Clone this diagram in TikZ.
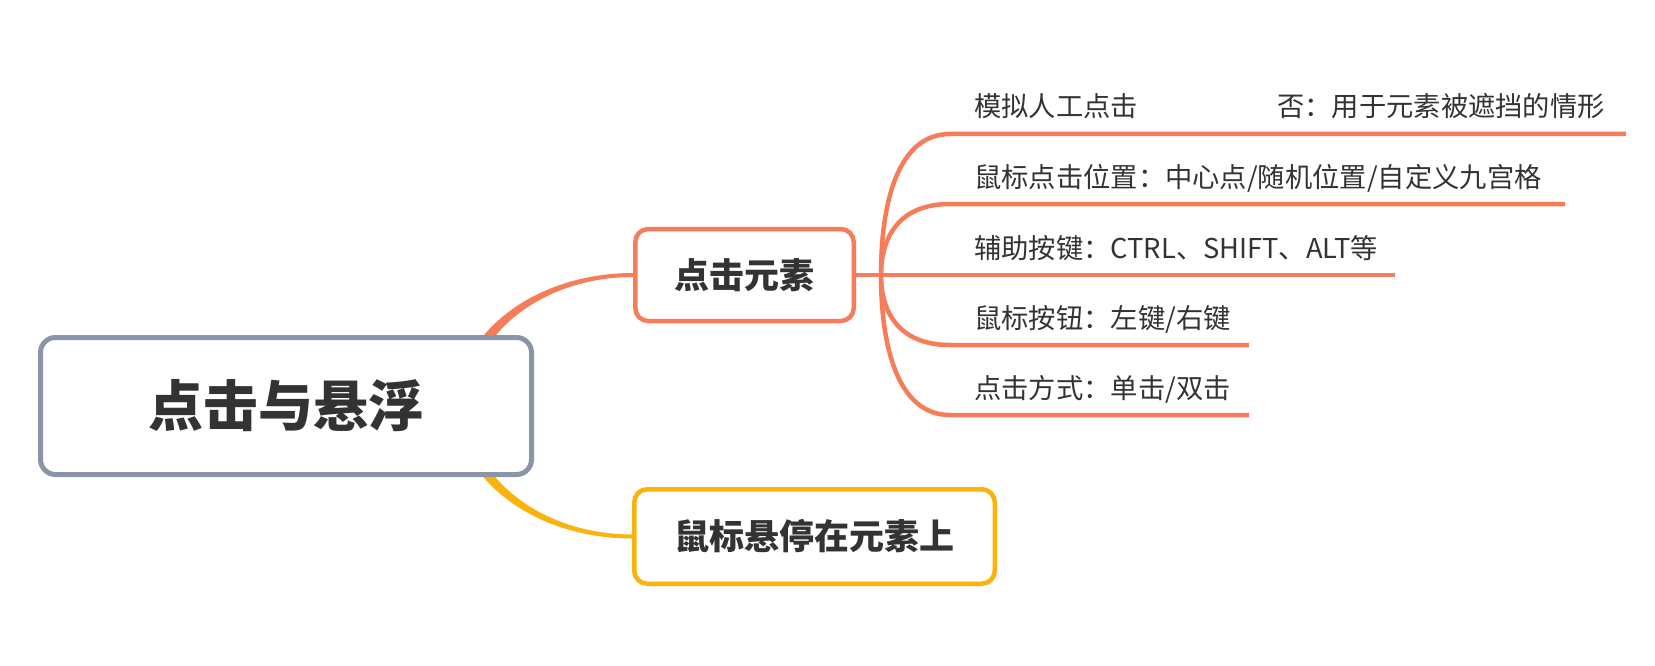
\documentclass[tikz,border=0pt]{standalone}
\usepackage{fontspec}
\setmainfont{Noto Sans CJK SC}
\usetikzlibrary{calc}
\pgfdeclarelayer{background}
\pgfsetlayers{background,main}
\definecolor{coral}{RGB}{247,125,90}
\definecolor{amber}{RGB}{252,178,12}
\definecolor{slate}{RGB}{138,149,168}
\definecolor{ink}{RGB}{51,51,51}
\tikzset{
  rootbox/.style={draw=slate, line width=5pt, fill=white, rounded corners=15pt,
    minimum width=491pt, minimum height=137pt, inner sep=0pt,
    font=\fontsize{55}{60}\selectfont\bfseries, text=ink},
  topicbox/.style={line width=4.5pt, fill=white, rounded corners=13pt,
    minimum height=92pt, inner sep=0pt,
    font=\fontsize{35}{40}\selectfont\bfseries, text=ink},
  leaftext/.style={anchor=base west, inner sep=0pt,
    font=\fontsize{27.3}{30}\selectfont, text=ink},
  leafline/.style={draw=coral, line width=4.5pt},
}
\begin{document}
\begin{tikzpicture}[x=1pt, y=-1pt]
\useasboundingbox (0,0) rectangle (1655,666);

% nodes
\node[rootbox] (root) at (286,406) {点击与悬浮};
\node[topicbox, draw=coral, minimum width=218.5pt] (click) at (744.5,275) {点击元素};
\node[topicbox, draw=amber, minimum width=360.5pt, minimum height=94.5pt] (hover) at (814.5,536.5) {鼠标悬停在元素上};

\begin{pgfonlayer}{background}
\fill[white] (0,0) rectangle (1655,666);
% tapered connectors from the root (their start is hidden behind the root box)
\fill[coral] ($(click.west)+(-176,131)$)
  .. controls ($(click.west)+(-176,57.5)$) and ($(click.west)+(-97.2,-2)$) .. ($(click.west)+(0,-2)$)
  -- ($(click.west)+(0,2)$)
  .. controls ($(click.west)+(-90.6,2)$) and ($(click.west)+(-164,59.8)$) .. ($(click.west)+(-164,131)$)
  -- cycle;
\fill[amber] ($(hover.west)+(-176,-130.5)$)
  .. controls ($(hover.west)+(-176,-57.3)$) and ($(hover.west)+(-97.2,2)$) .. ($(hover.west)+(0,2)$)
  -- ($(hover.west)+(0,-2)$)
  .. controls ($(hover.west)+(-90.6,-2)$) and ($(hover.west)+(-164,-59.5)$) .. ($(hover.west)+(-164,-130.5)$)
  -- cycle;
\end{pgfonlayer}

% branch point
\coordinate (split) at ($(click.east)+(25,0)$);
\draw[leafline] (click.east) -- (split);

% leaf line coordinates
\coordinate (l1s) at (950,134);  \coordinate (l1e) at (1626,134);
\coordinate (l2s) at (950,204);  \coordinate (l2e) at (1565,204);
\coordinate (l3s) at (950,275);  \coordinate (l3e) at (1395,275);
\coordinate (l4s) at (950,345);  \coordinate (l4e) at (1249,345);
\coordinate (l5s) at (950,415);  \coordinate (l5e) at (1249,415);

\foreach \i in {1,2,4,5}{
  \draw[leafline] (split)
    .. controls ($(split)!0.5!(split |- l\i s)$) and ($(split |- l\i s)+(16,0)$) .. (l\i s) -- (l\i e);
}
\draw[leafline] (split) -- (l3s) -- (l3e);

% leaf texts
\node[leaftext] (t1)  at (974,117) {模拟人工点击};
\node[leaftext] (t1b) at (1277,117) {否：用于元素被遮挡的情形};
\node[leaftext] (t2)  at (974,187) {鼠标点击位置：中心点/随机位置/自定义九宫格};
\node[leaftext] (t3)  at (974,258) {辅助按键：CTRL、SHIFT、ALT等};
\node[leaftext] (t4)  at (974,328) {鼠标按钮：左键/右键};
\node[leaftext] (t5)  at (974,398) {点击方式：单击/双击};
\end{tikzpicture}
\end{document}
